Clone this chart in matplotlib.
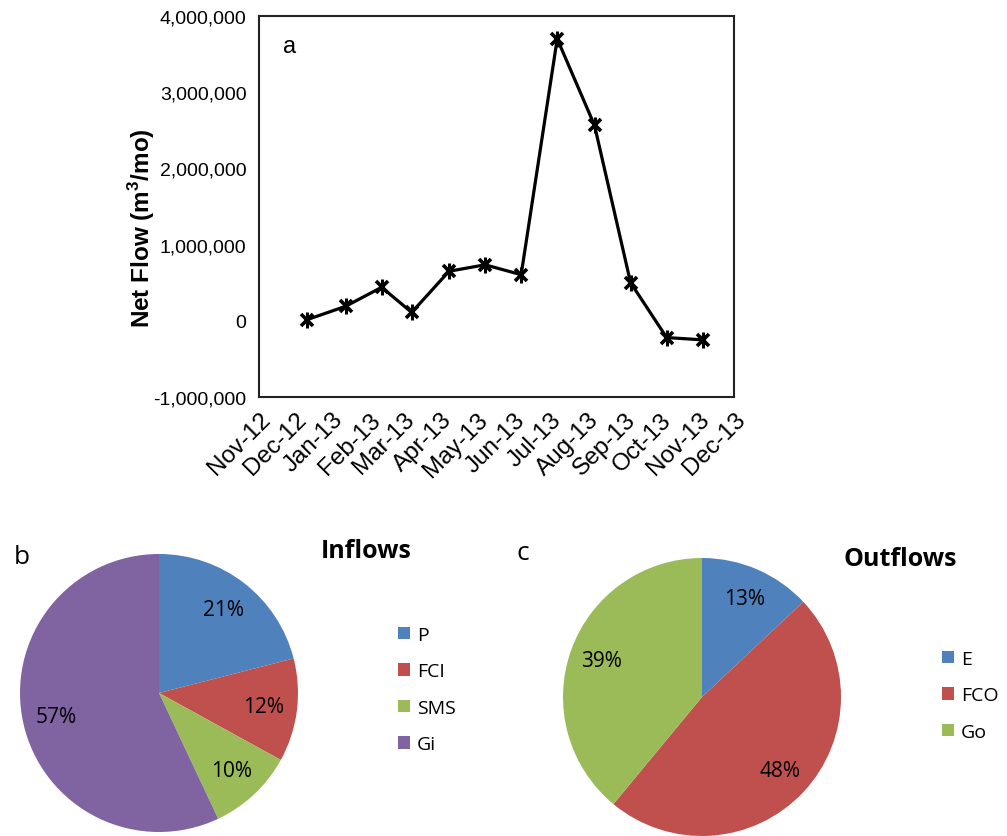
import matplotlib
matplotlib.use("Agg")
import matplotlib.pyplot as plt
import matplotlib.dates as mdates
from matplotlib.patches import Patch
from matplotlib.ticker import FuncFormatter, MultipleLocator
import datetime as dt

# ---------------- data ----------------
flow_dates = ["2012-12-11", "2013-01-12", "2013-02-11", "2013-03-08", "2013-04-08",
              "2013-05-08", "2013-06-07", "2013-07-07", "2013-08-07", "2013-09-06",
              "2013-10-06", "2013-11-05"]
net_flow = [15000, 190000, 440000, 110000, 650000, 735000, 605000,
            3700000, 2565000, 500000, -220000, -250000]

inflow_labels = ["P", "FCI", "SMS", "Gi"]
inflow_pct = [21, 12, 10, 57]
outflow_labels = ["E", "FCO", "Go"]
outflow_pct = [13, 48, 39]

pie_colors_in = ["#4F81BD", "#C0504D", "#9BBB59", "#8064A2"]
pie_colors_out = ["#4F81BD", "#C0504D", "#9BBB59"]

# ---------------- style ----------------
plt.rcParams['font.family'] = ['Liberation Sans', 'DejaVu Sans']
plt.rcParams['mathtext.fontset'] = 'custom'
plt.rcParams['mathtext.rm'] = 'Liberation Sans'
plt.rcParams['mathtext.bf'] = 'Liberation Sans:bold'
pie_font = ['Open Sans', 'DejaVu Sans']

W, H = 1007, 837
fig = plt.figure(figsize=(W / 100, H / 100), dpi=100)

def box(x0, y0, x1, y1):
    return [x0 / W, 1 - y1 / H, (x1 - x0) / W, (y1 - y0) / H]

# ---------------- panel a ----------------
ax = fig.add_axes(box(259, 17, 734, 398))
dates = [dt.datetime.strptime(d, "%Y-%m-%d") for d in flow_dates]
ax.plot(dates, net_flow, color='black', lw=2.3, zorder=3)
ax.plot(dates, net_flow, ls='none', marker='x', ms=9, mew=2.6, color='black', zorder=4)
ax.plot(dates, net_flow, ls='none', marker='|', ms=11, mew=2.2, color='black', zorder=4)
ax.set_xlim(dt.datetime(2012, 11, 1), dt.datetime(2013, 12, 1))
ax.set_ylim(-1000000, 4000000)
ax.yaxis.set_major_locator(MultipleLocator(1000000))
ax.yaxis.set_major_formatter(FuncFormatter(lambda v, p: f"{int(round(v)):,}"))
ax.xaxis.set_major_locator(mdates.MonthLocator())
ax.xaxis.set_major_formatter(mdates.DateFormatter("%b-%y"))
ax.tick_params(axis='y', length=0, labelsize=14, pad=9)
ax.tick_params(axis='x', length=0, labelsize=17.5, pad=8)
for lbl in ax.get_xticklabels():
    lbl.set_rotation(45)
    lbl.set_ha('right')
    lbl.set_rotation_mode('anchor')
for sp in ax.spines.values():
    sp.set_linewidth(1.5)
    sp.set_color('#222222')
ax.set_ylabel(r'Net Flow (m$^\mathbf{3}$/mo)', fontsize=17.5, fontweight='bold')
ax.yaxis.set_label_coords((142 - 259) / 475, 1 - (228 - 17) / 381)
ax.yaxis.label.set_va('center')
ax.text(0.065, 0.92, 'a', transform=ax.transAxes, fontsize=17, va='center', ha='center')

# ---------------- panel b ----------------
axb = fig.add_axes(box(20, 555, 298, 833))
axb.pie(inflow_pct, colors=pie_colors_in, startangle=90, counterclock=False,
        autopct='%d%%', pctdistance=0.76,
        textprops=dict(fontsize=15, family=pie_font, color='black'))
axb.set_xlim(-1, 1)
axb.set_ylim(-1, 1)
axb.set_aspect('equal')
fig.text(22 / W, 1 - 557 / H, 'b', fontsize=19, family=pie_font, ha='center', va='center')
fig.text(366 / W, 1 - 552 / H, 'Inflows', fontsize=18, family=pie_font, fontweight='bold',
         ha='center', va='center')
hb = [Patch(facecolor=c, edgecolor='none') for c in pie_colors_in]
fig.legend(hb, inflow_labels, loc='upper left', bbox_to_anchor=(398 / W, 1 - 627 / H),
           frameon=False, prop=dict(family=pie_font, size=14), borderpad=0, borderaxespad=0,
           handlelength=0.62, handleheight=0.62, handletextpad=0.35, labelspacing=0.95)

# ---------------- panel c ----------------
axc = fig.add_axes(box(563, 559, 841, 837))
axc.pie(outflow_pct, colors=pie_colors_out, startangle=90, counterclock=False,
        autopct='%d%%', pctdistance=0.77,
        textprops=dict(fontsize=15, family=pie_font, color='black'))
axc.set_xlim(-1, 1)
axc.set_ylim(-1, 1)
axc.set_aspect('equal')
fig.text(523 / W, 1 - 553 / H, 'c', fontsize=19, family=pie_font, ha='center', va='center')
fig.text(900 / W, 1 - 559 / H, 'Outflows', fontsize=18, family=pie_font, fontweight='bold',
         ha='center', va='center')
hc = [Patch(facecolor=c, edgecolor='none') for c in pie_colors_out]
fig.legend(hc, outflow_labels, loc='upper left', bbox_to_anchor=(942 / W, 1 - 651 / H),
           frameon=False, prop=dict(family=pie_font, size=14), borderpad=0, borderaxespad=0,
           handlelength=0.62, handleheight=0.62, handletextpad=0.35, labelspacing=0.95)

fig.savefig('out.png', dpi=100)
